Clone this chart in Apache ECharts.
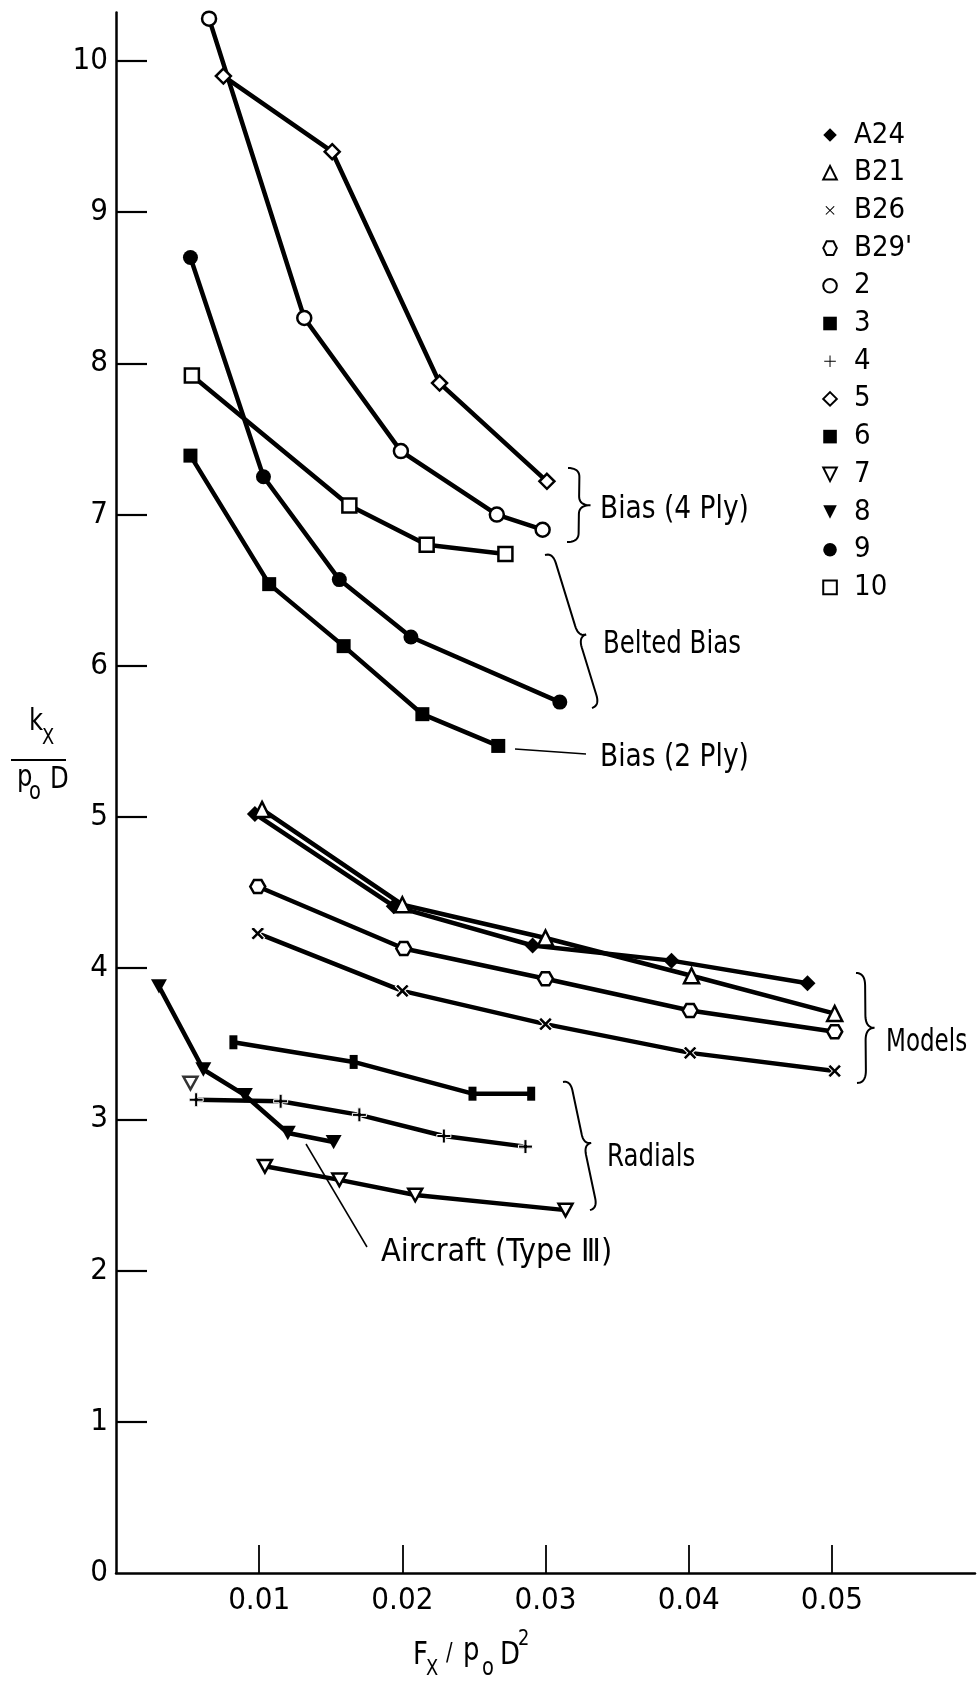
<!DOCTYPE html>
<html>
<head>
<meta charset="utf-8">
<script src="https://cdn.jsdelivr.net/npm/echarts@6/dist/echarts.min.js"></script>
<style>html,body{margin:0;padding:0;background:#fff;}#c{width:977px;height:1682px;}</style>
</head>
<body>
<div id="c"></div>
<script>
// ---- data (x = Fx/(p0 D^2), y = kx/(p0 D)) ----
const s_A24 = [[0.0097,5.02],[0.0194,4.41],[0.0291,4.15],[0.0388,4.05],[0.0483,3.90]];
const s_B21 = [[0.0102,5.05],[0.0200,4.42],[0.0300,4.20],[0.0402,3.95],[0.0502,3.70]];
const s_B26 = [[0.0099,4.23],[0.0200,3.85],[0.0300,3.63],[0.0401,3.44],[0.0502,3.32]];
const s_B29 = [[0.0099,4.54],[0.0201,4.13],[0.0300,3.93],[0.0401,3.72],[0.0502,3.58]];
const s_2   = [[0.0065,10.28],[0.01315,8.30],[0.0199,7.42],[0.0266,7.00],[0.0298,6.90]];
const s_3   = [[0.0052,7.39],[0.0107,6.54],[0.0159,6.13],[0.0214,5.68],[0.0267,5.47]];
const s_4   = [[0.0056,3.13],[0.0115,3.12],[0.0170,3.03],[0.0229,2.89],[0.0286,2.82]];
const s_5   = [[0.0075,9.90],[0.0151,9.40],[0.0226,7.87],[0.0301,7.22]];
const s_6   = [[0.0082,3.51],[0.0166,3.38],[0.0249,3.17],[0.0290,3.17]];
const s_7   = [[0.0052,3.24],[0.0104,2.69],[0.0156,2.60],[0.0209,2.50],[0.0314,2.40]]; // first point stands alone
const s_8   = [[0.0030,3.88],[0.0061,3.33],[0.0090,3.16],[0.0120,2.91],[0.0152,2.85]];
const s_9   = [[0.0052,8.70],[0.0103,7.25],[0.0156,6.57],[0.0206,6.19],[0.0310,5.76]];
const s_10  = [[0.0053,7.92],[0.0163,7.06],[0.0217,6.80],[0.0272,6.74]];

const legendNames = ['A24','B21','B26',"B29'",'2','3','4','5','6','7','8','9','10'];
const xTickValues = [0.01,0.02,0.03,0.04,0.05];
const yTickValues = [1,2,3,4,5,6,7,8,9,10];
const yLabelValues = [0,1,2,3,4,5,6,7,8,9,10];

// ---- styling ----
const FONT = "'Liberation Sans Narrow','DejaVu Sans Condensed','Liberation Sans',sans-serif";
const PLUS = 'path://M-0.22,-1H0.22V-0.22H1V0.22H0.22V1H-0.22V0.22H-1V-0.22H-0.22Z';
const HEX = 'path://M-1,0L-0.5,-0.866L0.5,-0.866L1,0L0.5,0.866L-0.5,0.866Z';
const DTRI = 'path://M-1,-0.9L1,-0.9L0,0.9Z';
const BAR = 'path://M0,0H4V7H0Z';

const FILLED = {color:'#000', borderColor:'#000', borderWidth:0};
const OPEN = {color:'#fff', borderColor:'#000', borderWidth:2.5};
const THIN = {color:'#000', borderColor:'#fff', borderWidth:1};

function ser(name, data, symbol, size, itemStyle, extra){
  return Object.assign({
    type:'line', name, data, symbol, symbolSize:size, showSymbol:true,
    symbolKeepAspect:true,
    lineStyle:{color:'#000', width:4.5},
    itemStyle, emphasis:{disabled:true}, silent:true, z:2
  }, extra||{});
}

const series = [
  ser('A24', s_A24, 'diamond', 16, FILLED),
  ser('B21', s_B21, 'triangle', 15, OPEN),
  ser('B26', s_B26, PLUS, 16, THIN, {symbolRotate:45}),
  ser("B29'", s_B29, HEX, 15, OPEN),
  ser('2', s_2, 'circle', 14, OPEN),
  ser('3', s_3, 'rect', 14, FILLED),
  ser('4', s_4, PLUS, 14, THIN),
  ser('5', s_5, 'diamond', 15, OPEN),
  ser('6', s_6, BAR, 14, FILLED),
  ser('7', s_7.slice(1), DTRI, 14, OPEN),
  ser('8', s_8, DTRI, 16, FILLED),
  ser('9', s_9, 'circle', 15, FILLED),
  ser('10', s_10, 'rect', 14, OPEN),
  {type:'scatter', name:'7', data:s_7.slice(0,1), symbol:DTRI, symbolSize:14, symbolKeepAspect:true,
   itemStyle:OPEN, silent:true, z:3}
];

// ---- annotation helpers ----
function brace(x0,y0,x1,y1,w,f){
  f = f==null?0.5:f;
  const dx=x1-x0, dy=y1-y0, L=Math.hypot(dx,dy);
  const ux=dx/L, uy=dy/L, nx=uy, ny=-ux;
  const P=(a,b)=>[x0+a*ux+b*nx, y0+a*uy+b*ny];
  const h=w/2, m=L*f, r=Math.min(w*0.7, L*0.12);
  const pts=[];
  const quad=(p0,c,p1)=>{for(let i=0;i<=10;i++){const t=i/10,k=1-t;pts.push([k*k*p0[0]+2*k*t*c[0]+t*t*p1[0], k*k*p0[1]+2*k*t*c[1]+t*t*p1[1]]);}};
  quad(P(0,0),P(0,h),P(r,h));
  quad(P(m-r,h),P(m,h),P(m,w));
  quad(P(m,w),P(m,h),P(m+r,h));
  quad(P(L-r,h),P(L,h),P(L,0));
  return {type:'polyline', shape:{points:pts}, style:{stroke:'#000', lineWidth:2, fill:null}, silent:true};
}
function txt(t, x, y, size, sx){
  return {type:'text', x:x, y:y, scaleX:sx||1, silent:true,
    style:{text:t, fill:'#000', fontSize:size, fontFamily:FONT,
      align:'left', verticalAlign:'middle', textAlign:'left', textVerticalAlign:'middle'}};
}
function seg(x1,y1,x2,y2,w){
  return {type:'line', shape:{x1,y1,x2,y2}, style:{stroke:'#000', lineWidth:w||1.5}, silent:true};
}

const graphics = [
  // y-axis title kx / (p0 D)
  txt('k', 29, 722, 30, 0.9), txt('X', 42, 738, 22, 0.9),
  seg(11,760,66,760,2),
  txt('p', 17, 778, 30, 0.9), txt('o', 29, 793, 24, 0.9), txt('D', 50, 780, 30, 0.9),
  // x-axis title Fx / p0 D^2
  txt('F', 413, 1656, 32, 0.9), txt('X', 426, 1669, 22, 0.9), txt('/', 446, 1654, 24, 0.9),
  txt('p', 463, 1652, 32, 0.9), txt('o', 482, 1669, 24, 0.9), txt('D', 500, 1656, 32, 0.9), txt('2', 518, 1639, 22, 0.9),
  // group labels
  brace(568,468,567,542,23), txt('Bias (4 Ply)', 600, 510, 32, 0.92),
  brace(545,555,592,708,16,0.55), txt('Belted Bias', 603, 645, 32, 0.85),
  seg(515,749,586,754), txt('Bias (2 Ply)', 600, 758, 32, 0.92),
  brace(856,973,857,1083,18), txt('Models', 886, 1043, 32, 0.8),
  brace(563,1082,590,1210,15), txt('Radials', 607, 1158, 32, 0.85),
  seg(306,1144,367,1247), txt('Aircraft (Type \u2162)', 381, 1253, 32, 1.0)
];

const option = {
  animation:false,
  backgroundColor:'#fff',
  textStyle:{fontFamily:FONT, color:'#000'},
  grid:{left:116, right:2, top:12.6, bottom:109, containLabel:false, outerBoundsMode:'none'},
  xAxis:{
    type:'value', min:0, max:0.06, interval:0.01,
    axisLine:{show:true, onZero:false, lineStyle:{color:'#000', width:2.5}},
    axisTick:{show:true, inside:true, length:28, customValues:xTickValues, lineStyle:{color:'#000', width:1.8}},
    axisLabel:{show:true, customValues:xTickValues, margin:12, fontSize:31, color:'#000', fontFamily:FONT,
      formatter:v=>v.toFixed(2)},
    splitLine:{show:false}
  },
  yAxis:{
    type:'value', min:0, max:10.32, interval:1,
    axisLine:{show:true, onZero:false, lineStyle:{color:'#000', width:2.5}},
    axisTick:{show:true, inside:true, length:31, customValues:yTickValues, lineStyle:{color:'#000', width:2.2}},
    axisLabel:{show:true, customValues:yLabelValues, margin:8, fontSize:31, color:'#000', fontFamily:FONT,
      formatter:v=>String(Math.round(v))},
    splitLine:{show:false}
  },
  legend:{
    orient:'vertical', left:814, top:115, data:legendNames,
    itemWidth:20, itemHeight:17, itemGap:7.7,
    lineStyle:{width:0},
    selectedMode:false,
    textStyle:{fontSize:29, lineHeight:30, color:'#000', fontFamily:FONT, padding:[0,0,0,9]}
  },
  series:series,
  graphic:graphics
};

const chart = echarts.init(document.getElementById('c'), null, {renderer:'canvas'});
chart.setOption(option);
</script>
</body>
</html>
